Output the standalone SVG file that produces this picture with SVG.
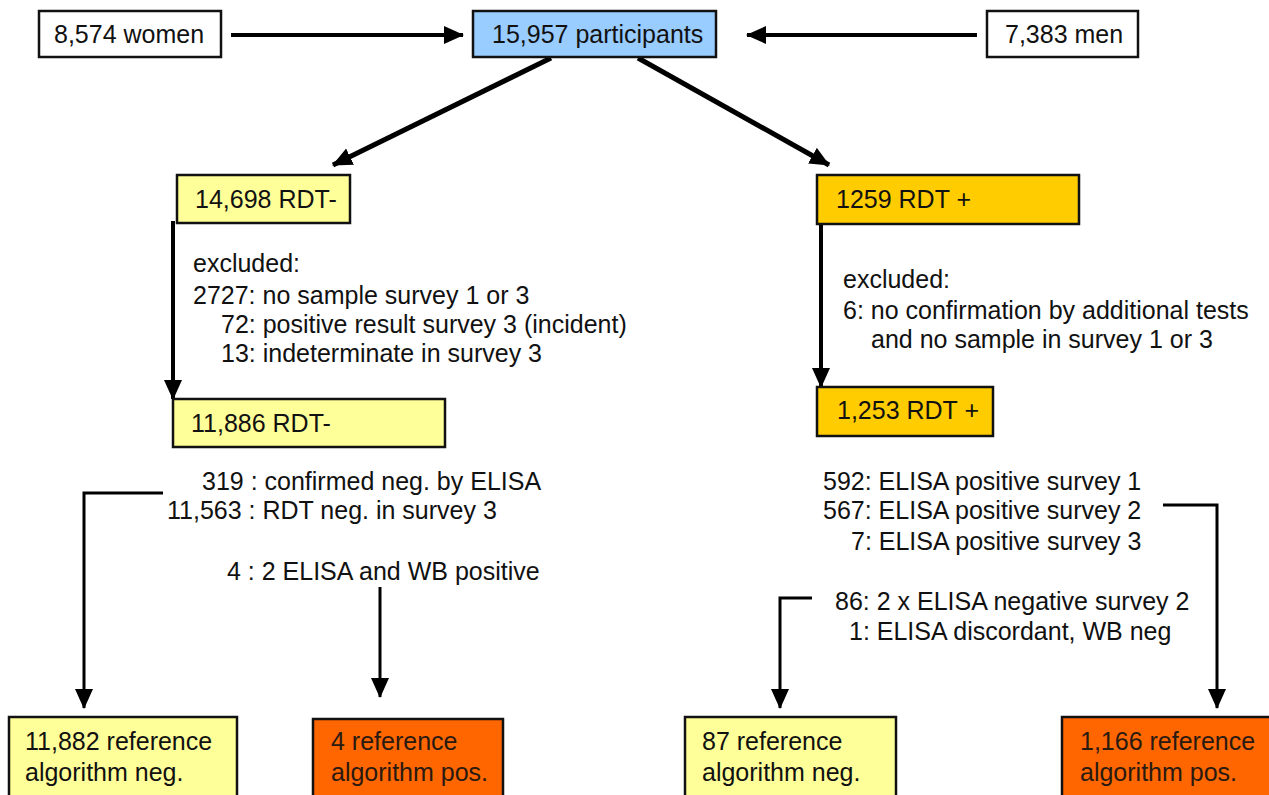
<svg xmlns="http://www.w3.org/2000/svg" width="1269" height="795" viewBox="0 0 1269 795">
<defs>
<style>
text{font-family:"Liberation Sans",Arial,sans-serif;fill:#111}
.bt{font-size:25px}
.tx{font-size:25px}
.box{stroke:#111;stroke-width:2.5}
.w{fill:#fff}.b{fill:#99ccff}.y{fill:#ffff99}.g{fill:#ffcc00}.o{fill:#ff6600}
.ln{stroke:#000;fill:none;stroke-width:4}
.th{stroke-width:5}
.tn{stroke-width:3}
.dk{fill:#2a1a10}
</style>
<marker id="ah" markerUnits="userSpaceOnUse" markerWidth="20" markerHeight="18" refX="19" refY="9" orient="auto">
<path d="M0,0 L20,9 L0,18 z" fill="#000"/>
</marker>
</defs>
<rect width="1269" height="795" fill="#fff"/>
<g id="connectors">
<line class="ln" x1="231" y1="35" x2="463" y2="35" marker-end="url(#ah)"/>
<line class="ln" x1="977" y1="35" x2="747" y2="35" marker-end="url(#ah)"/>
<line class="ln th" x1="551" y1="58" x2="333" y2="165" marker-end="url(#ah)"/>
<line class="ln th" x1="638" y1="58" x2="829" y2="165" marker-end="url(#ah)"/>
<line class="ln" x1="173" y1="221" x2="173" y2="399" marker-end="url(#ah)"/>
<line class="ln" x1="821" y1="224" x2="821" y2="387" marker-end="url(#ah)"/>
<polyline class="ln tn" points="163,493 84,493 84,708" marker-end="url(#ah)"/>
<line class="ln tn" x1="380" y1="587" x2="380" y2="697" marker-end="url(#ah)"/>
<polyline class="ln tn" points="812,598 780,598 780,708" marker-end="url(#ah)"/>
<polyline class="ln tn" points="1163,505 1217,505 1217,708" marker-end="url(#ah)"/>
</g>
<g id="women"><rect class="box w" x="39" y="11" width="182" height="46"/><text class="bt" x="54" y="43">8,574 women</text></g>
<g id="participants"><rect class="box b" x="473" y="11" width="243" height="46"/><text class="bt" x="492" y="43">15,957 participants</text></g>
<g id="men"><rect class="box w" x="987" y="11" width="151" height="46"/><text class="bt" x="1005" y="43">7,383 men</text></g>
<g id="rdtneg1"><rect class="box y" x="177" y="175" width="173" height="48"/><text class="bt" x="195" y="208">14,698 RDT-</text></g>
<g id="rdtpos1"><rect class="box g" x="817" y="175" width="262" height="49"/><text class="bt" x="836" y="208">1259 RDT +</text></g>
<g id="excl-left">
<text class="tx" x="193" y="272">excluded:</text>
<text class="tx" x="193" y="304">2727: no sample survey 1 or 3</text>
<text class="tx" x="221" y="333">72: positive result survey 3 (incident)</text>
<text class="tx" x="221" y="362">13: indeterminate in survey 3</text>
</g>
<g id="excl-right">
<text class="tx" x="843" y="288">excluded:</text>
<text class="tx" x="843" y="319">6: no confirmation by additional tests</text>
<text class="tx" x="871" y="348">and no sample in survey 1 or 3</text>
</g>
<g id="rdtneg2"><rect class="box y" x="173" y="399" width="272" height="48"/><text class="bt" x="191" y="432">11,886 RDT-</text></g>
<g id="rdtpos2"><rect class="box g" x="817" y="387" width="176" height="49"/><text class="bt" x="837" y="419">1,253 RDT +</text></g>
<g id="notes-left">
<text class="tx" x="202" y="490">319 : confirmed neg. by ELISA</text>
<text class="tx" x="167" y="519">11,563 : RDT neg. in survey 3</text>
<text class="tx" x="227" y="580">4 : 2 ELISA and WB positive</text>
</g>
<g id="notes-right">
<text class="tx" x="823" y="490">592: ELISA positive survey 1</text>
<text class="tx" x="823" y="519">567: ELISA positive survey 2</text>
<text class="tx" x="851" y="550">7: ELISA positive survey 3</text>
<text class="tx" x="835" y="610">86: 2 x ELISA negative survey 2</text>
<text class="tx" x="849" y="640">1: ELISA discordant, WB neg</text>
</g>
<g id="refneg-left"><rect class="box y" x="9" y="717" width="228" height="84"/><text class="bt" x="25" y="750">11,882 reference</text><text class="bt" x="25" y="781">algorithm neg.</text></g>
<g id="refpos-left"><rect class="box o" x="313" y="719" width="190" height="82"/><text class="bt dk" x="331" y="750">4 reference</text><text class="bt dk" x="331" y="781">algorithm pos.</text></g>
<g id="refneg-right"><rect class="box y" x="685" y="717" width="211" height="84"/><text class="bt" x="702" y="750">87 reference</text><text class="bt" x="702" y="781">algorithm neg.</text></g>
<g id="refpos-right"><rect class="box o" x="1062" y="717" width="215" height="84"/><text class="bt dk" x="1080" y="750">1,166 reference</text><text class="bt dk" x="1080" y="781">algorithm pos.</text></g>
</svg>
